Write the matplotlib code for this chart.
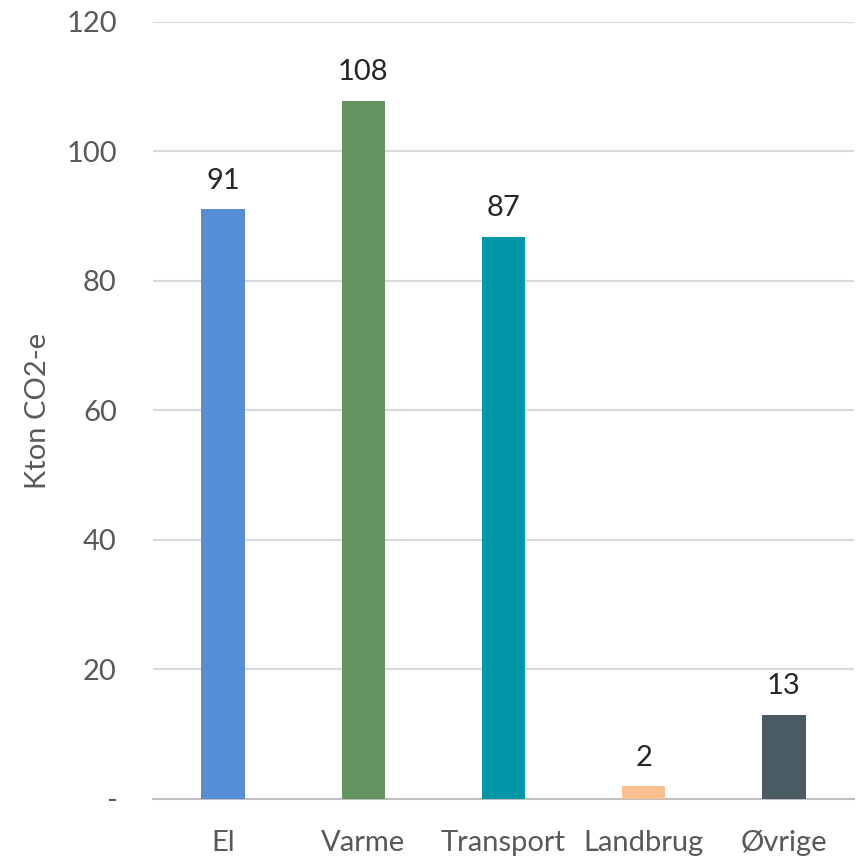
import numpy as np
import matplotlib
matplotlib.use("Agg")
import matplotlib.pyplot as plt

plt.rcParams['font.family'] = ['Lato', 'DejaVu Sans']

# data
categories = ["El", "Varme", "Transport", "Landbrug", "Øvrige"]
values = [91.1, 107.8, 86.8, 2.0, 13.0]
bar_colors = ["#558ED5", "#629460", "#0096A8", "#FAC090", "#4A5B64"]
y_ticks = [0, 20, 40, 60, 80, 100, 120]
y_tick_labels = ["-", "20", "40", "60", "80", "100", "120"]

fig = plt.figure(figsize=(8.58, 8.56), dpi=100)
ax = fig.add_axes([0.1783, 0.0666, 0.8170, 0.9077])

x = np.arange(len(categories))
bars = ax.bar(x, values, width=0.31, color=bar_colors, zorder=3)

# value labels above bars
for xi, v in zip(x, values):
    ax.text(xi, v + 2.4, f"{v:.0f}", ha="center", va="bottom",
            fontsize=21, color="#262626")

ax.set_xlim(-0.5, len(categories) - 0.5)
ax.set_ylim(0, 120)
ax.set_yticks(y_ticks)
ax.set_yticklabels(y_tick_labels)
ax.set_xticks(x)
ax.set_xticklabels(categories)

ax.yaxis.grid(True, color="#D9D9D9", linewidth=1.5, zorder=0)
ax.tick_params(axis="both", length=0, labelsize=21, colors="#595959")
ax.tick_params(axis="x", pad=22)
ax.tick_params(axis="y", pad=26)
for lbl in ax.get_yticklabels():
    lbl.set_horizontalalignment("right")

for side in ["top", "right", "left"]:
    ax.spines[side].set_visible(False)
ax.spines["bottom"].set_color("#BFBFBF")
ax.spines["bottom"].set_linewidth(1.5)

ax.set_ylabel("Kton CO2-e", fontsize=21, color="#595959", labelpad=11)

fig.savefig("out.png", dpi=100)
